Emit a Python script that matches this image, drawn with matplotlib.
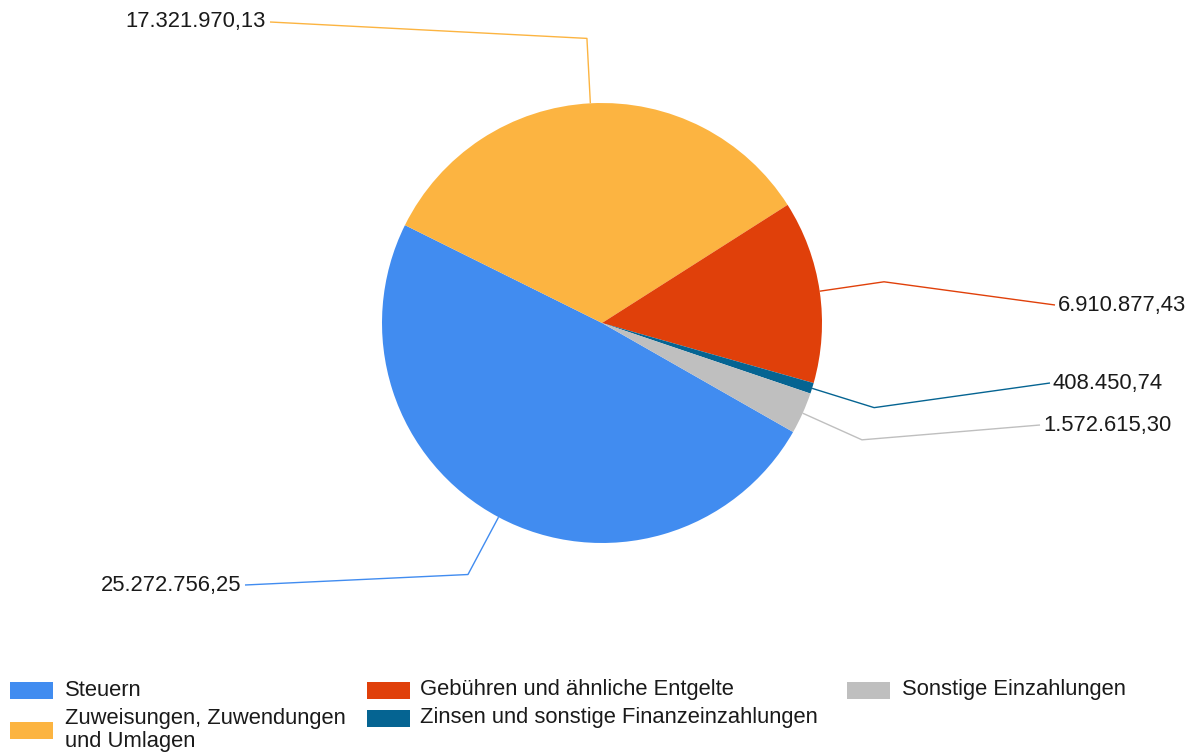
import numpy as np
import matplotlib
matplotlib.use("Agg")
import matplotlib.pyplot as plt
from matplotlib.patches import Rectangle

# ---- data ----
categories = ["Steuern", "Zuweisungen, Zuwendungen\nund Umlagen",
              "Gebühren und ähnliche Entgelte",
              "Zinsen und sonstige Finanzeinzahlungen",
              "Sonstige Einzahlungen"]
values = [25272756.25, 17321970.13, 6910877.43, 408450.74, 1572615.30]
value_labels = ["25.272.756,25", "17.321.970,13", "6.910.877,43",
                "408.450,74", "1.572.615,30"]
colors = ["#418CF0", "#FCB441", "#E0400A", "#056492", "#BFBFBF"]

# ---- layout (pixel coords, y measured from top) ----
W, H = 1195, 756
cx, cy, R = 602, 323, 220
start_angle = -29.7
label_end = [(245, 585), (270, 22), (1055, 305), (1050, 383), (1040, 425)]
label_ha = ["right", "right", "left", "left", "left"]
legend_pos = [(10, 690), (10, 730), (367, 690), (367, 718), (847, 690)]
legend_text_dx = [55, 55, 53, 53, 55]

plt.rcParams['font.family'] = ['Liberation Sans', 'DejaVu Sans']
fig = plt.figure(figsize=(W / 100, H / 100), dpi=100)
ax = fig.add_axes([0, 0, 1, 1])

wedges, _ = ax.pie(values, colors=colors, startangle=start_angle, counterclock=False,
                   center=(cx, H - cy), radius=R, frame=True,
                   wedgeprops=dict(linewidth=0))
ax.set_xlim(0, W)
ax.set_ylim(0, H)
ax.set_aspect('equal')
ax.axis('off')

fs = 15.8
for w, lab, end, ha, col in zip(wedges, value_labels, label_end, label_ha, colors):
    mid = np.deg2rad((w.theta1 + w.theta2) / 2)
    p0 = (cx + R * np.cos(mid), H - cy + R * np.sin(mid))
    p1 = (cx + 285 * np.cos(mid), H - cy + 285 * np.sin(mid))
    p2 = (end[0], H - end[1])
    ax.plot([p0[0], p1[0], p2[0]], [p0[1], p1[1], p2[1]], color=col, lw=1.0,
            solid_capstyle='butt')
    dx = -4 if ha == "right" else 3
    ax.text(p2[0] + dx, p2[1], lab, ha=ha, va='center', fontsize=fs, color='#1a1a1a')

# legend
for (lx, ly), name, col, tdx in zip(legend_pos, categories, colors, legend_text_dx):
    ax.add_patch(Rectangle((lx, H - ly - 8.5), 43, 17, facecolor=col, edgecolor='none'))
    ty = ly if "\n" not in name else 730
    ax.text(lx + tdx, H - ty, name, ha='left', va='center', fontsize=fs,
            color='#1a1a1a', linespacing=1.08)

fig.savefig("out.png", dpi=100, facecolor='white')
